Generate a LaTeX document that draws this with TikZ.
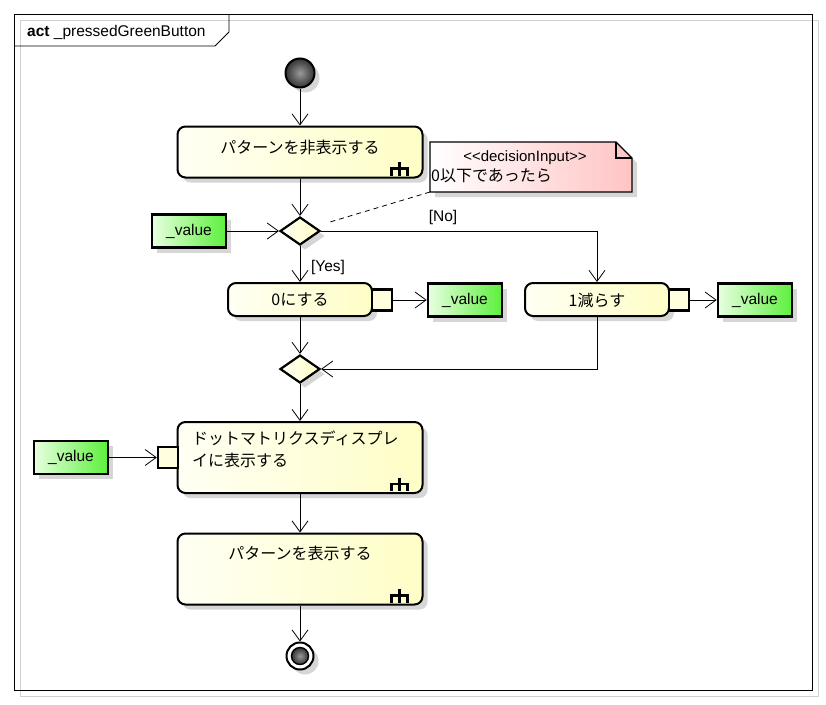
\documentclass[tikz,border=0pt]{standalone}
\usepackage{fontspec}
\setmainfont{Liberation Sans}
\newfontfamily\jp{Noto Sans CJK JP}
\usetikzlibrary{arrows.meta,shapes.geometric,shadows,calc}
\definecolor{yelL}{HTML}{FFFFF4}
\definecolor{yelR}{HTML}{FEFEC6}
\definecolor{grnL}{HTML}{E8FFE0}
\definecolor{grnR}{HTML}{5CF03C}
\definecolor{pinkR}{HTML}{FFC4C4}
\definecolor{pinF}{HTML}{FFFFE0}
\definecolor{shd}{HTML}{D6D6D6}
\begin{document}
\begin{tikzpicture}[x=1pt,y=-1pt,
  shadowed/.style={drop shadow={shadow xshift=5pt,shadow yshift=-5pt,fill=shd,opacity=1}},
  action/.style={draw,line width=2pt,rounded corners=8pt,left color=yelL,right color=yelR,inner sep=0pt,shadowed},
  objbox/.style={draw,line width=2.6pt,left color=grnL,right color=grnR,inner sep=0pt,minimum width=74pt,minimum height=33pt,shadowed,font=\fontsize{15.5}{18}\selectfont},
  pinbox/.style={draw,line width=2.4pt,fill=pinF,inner sep=0pt,minimum width=20pt,minimum height=21pt},
  decision/.style={diamond,draw,line width=2.2pt,left color=yelL,right color=yelR,inner sep=0pt,minimum width=40pt,minimum height=28pt,shadowed},
  jpt/.style={inner sep=0pt,font=\jp\fontsize{16}{21.5}\selectfont},
  lbl/.style={inner sep=0pt,font=\fontsize{15.5}{18}\selectfont},
  flow/.style={draw,line width=0.8pt,-{Straight Barb[length=11pt,width=16pt,line width=0.8pt]}},
  rake/.pic={\draw[line width=2.6pt] (-8,7)--(-8,0)--(8,0)--(8,7); \draw[line width=2.6pt] (0,-6.5)--(0,7);}
]
\useasboundingbox (0,0) rectangle (826,704);
\fill[white] (0,0) rectangle (826,704);
% frame
\draw[black!18,line width=0.8pt] (20,20) rectangle (818,696);
\draw[line width=0.8pt] (14,14) rectangle (812,690);
\draw[line width=0.8pt] (14,46) -- (215,46) -- (229,32) -- (229,14);
\node[anchor=west,inner sep=0pt,font=\fontsize{15.5}{18}\selectfont] (title) at (27,32) {\textbf{act} \_pressedGreenButton};

% initial node
\node[circle,draw,line width=2pt,minimum size=29pt,inner sep=0pt,shading=radial,inner color=black!40,outer color=black!80,shadowed] (init) at (300,73) {};

% action 1
\node[action,minimum width=245pt,minimum height=51pt] (a1) at (300,152) {};
\node[jpt] (a1t) at (300,148) {パターンを非表示する};
\pic at ([shift={(-24,-10)}]a1.south east) {rake};

% note
\coordinate (nsw) at (430,192);
\fill[shd] (435,147) -- (621,147) -- (637,163) -- (637,197) -- (435,197) -- cycle;
\draw[line width=1.2pt,left color=white,right color=pinkR] (430,142) -- (616,142) -- (632,158) -- (632,192) -- (430,192) -- cycle;
\draw[line width=1.2pt] (616,142) -- (616,158) -- (632,158);
\node[inner sep=0pt,font=\fontsize{15}{18}\selectfont] (nt1) at (525,158) {<{}<decisionInput>{}>};
\node[jpt,anchor=west] (nt2) at (431,176) {0以下であったら};

% decision
\node[decision] (d1) at (300,231) {};
\node[objbox] (v1) at (189,231) {\_value};
\draw[dash pattern=on 5pt off 4pt,line width=0.8pt] (nsw) -- ($(nsw)!0.79!(d1.center)$);

% branches
\node[action,minimum width=144pt,minimum height=33pt] (zero) at (300,299.5) {};
\node[jpt] (zerot) at (300,300) {0にする};
\node[pinbox] (zpin) at (382,300) {};
\node[objbox] (zv) at (465,300) {\_value};

\node[action,minimum width=144pt,minimum height=33pt] (dec) at (597,299.5) {};
\node[jpt] (dect) at (597,300) {1減らす};
\node[pinbox] (dpin) at (679,300) {};
\node[objbox] (dv) at (755,300) {\_value};

\node[lbl] (lno) at (443,217) {[No]};
\node[lbl] (lyes) at (328,267) {[Yes]};

% merge
\node[decision] (m) at (300,369) {};

% action 3
\node[action,minimum width=245pt,minimum height=71pt] (a3) at (300,457.5) {};
\node[jpt,align=left,anchor=north west] (a3t) at (192,431) {ドットマトリクスディスプレ\\イに表示する};
\pic at ([shift={(-24,-10)}]a3.south east) {rake};
\node[pinbox] (p3) at (168,457.5) {};
\node[objbox] (v3) at (71,457.5) {\_value};

% action 4
\node[action,minimum width=245pt,minimum height=71pt] (a4) at (300,569) {};
\node[jpt] (a4t) at (300,553) {パターンを表示する};
\pic at ([shift={(-24,-10)}]a4.south east) {rake};

% final node
\node[circle,draw,line width=2pt,fill=white,minimum size=27pt,inner sep=0pt,shadowed] (fin) at (300,656) {};
\node[circle,draw,line width=1.4pt,minimum size=17pt,inner sep=0pt,shading=radial,inner color=black!40,outer color=black!80] (fincore) at (300,656) {};

% connectors
\draw[flow] (init) -- (a1);
\draw[flow] (a1) -- (d1);
\draw[flow] (v1.east) -- (d1.west);
\draw[flow] (d1.east) -| (dec.north);
\draw[flow] (d1.south) -- (zero.north);
\draw[flow] (zpin.east) -- (zv.west);
\draw[flow] (dpin.east) -- (dv.west);
\draw[flow] (zero.south) -- (m.north);
\draw[flow] (dec.south) |- (m.east);
\draw[flow] (m.south) -- (a3.north);
\draw[flow] (v3.east) -- (p3.west);
\draw[flow] (a3) -- (a4);
\draw[flow] (a4) -- (fin);
\end{tikzpicture}
\end{document}
